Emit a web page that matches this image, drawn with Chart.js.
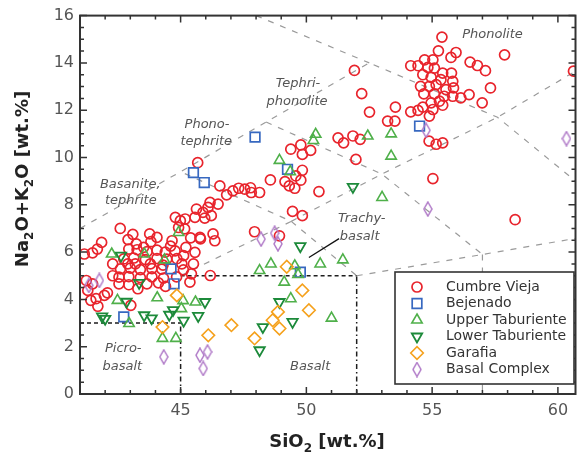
<!DOCTYPE html>
<html><head><meta charset="utf-8">
<script src="https://cdn.jsdelivr.net/npm/chart.js@4.4.0/dist/chart.umd.min.js"></script>
<style>html,body{margin:0;padding:0;background:#fff;overflow:hidden;width:580px;height:452px}canvas{display:block}</style>
</head><body><canvas id="c" width="584" height="452"></canvas>
<script>
// ---------------- data ----------------
const seriesNames = ["Cumbre Vieja","Bejenado","Upper Taburiente","Lower Taburiente","Garafia","Basal Complex"];
const xTickValues = [45,50,55,60];
const yTickValues = [0,2,4,6,8,10,12,14,16];

const cumbreVieja = [
[55.39,15.09],[57.88,14.34],[55.25,14.51],[55.95,14.44],[55.75,14.23],[54.70,14.13],[55.03,14.13],[54.15,13.88],[54.44,13.88],[56.51,14.03],[56.80,13.89],[57.12,13.67],[54.83,13.81],[55.09,13.78],[55.42,13.57],[55.77,13.57],[54.63,13.50],[54.96,13.39],[55.35,13.29],[55.82,13.22],[54.54,13.01],[54.89,13.01],[55.16,13.08],[55.55,12.87],[55.85,12.94],[57.32,12.94],[54.67,12.69],[55.09,12.69],[55.48,12.59],[55.82,12.59],[56.14,12.52],[56.47,12.66],[54.96,12.31],[55.29,12.38],[56.99,12.31],[54.63,12.13],[55.03,12.03],[55.42,12.21],[54.15,11.93],[54.44,11.99],[54.89,11.75],[53.54,12.13],[53.23,11.54],[53.52,11.54],[54.88,10.69],[55.16,10.56],[55.42,10.62],[60.62,13.65],
[51.91,13.68],[52.20,12.70],[52.51,11.92],[51.26,10.83],[51.48,10.62],[51.85,10.91],[52.14,10.77],[49.38,10.35],[49.78,10.53],[49.84,10.13],[50.17,10.30],[49.15,8.98],[49.32,8.80],[49.54,8.70],[49.78,9.04],[49.84,9.46],[49.58,9.22],[50.50,8.56],[51.97,9.92],[55.03,9.11],[49.45,7.72],[49.84,7.54],[58.30,7.37],[48.57,9.05],
[45.68,9.78],[46.56,8.80],[46.83,8.42],[47.08,8.59],[47.31,8.70],[47.55,8.66],[47.81,8.52],[48.14,8.52],[47.78,8.72],[46.17,8.10],[46.49,8.03],[45.63,7.82],[45.89,7.68],[46.09,7.89],[45.57,7.47],[45.96,7.44],[46.22,7.54],[45.18,7.40],[44.99,7.33],[44.92,7.04],[45.16,6.98],[44.79,7.47],[45.77,6.62],[46.29,6.77],[46.36,6.48],[47.94,6.86],[48.93,6.69],[45.21,6.20],[45.12,5.85],[45.57,5.99],[45.51,5.50],[45.05,5.50],[45.43,5.08],[45.37,4.73],[46.18,5.01],[45.79,6.56],[45.40,6.60],[44.66,6.48],
[42.60,7.00],[41.86,6.41],[41.69,6.13],[41.50,5.97],[41.17,5.92],[42.91,6.53],[43.24,6.35],[42.94,6.13],[43.77,6.77],[44.06,6.62],[43.82,6.44],[43.53,6.20],[43.10,6.75],[44.60,6.25],
[43.27,6.10],[43.67,6.02],[44.06,6.08],[44.39,6.00],[44.78,6.05],
[42.74,5.71],[43.14,5.75],[43.60,5.68],[44.06,5.73],[44.45,5.70],[44.85,5.72],
[42.61,5.29],[43.00,5.32],[43.40,5.26],[43.86,5.30],[44.25,5.28],[45.11,5.25],
[42.55,4.94],[42.94,4.96],[43.40,4.92],[43.86,4.95],[44.32,4.90],[44.84,4.95],
[42.55,4.66],[42.94,4.62],[43.66,4.66],[44.12,4.70],[43.30,4.45],[44.40,4.55],
[43.20,5.50],[43.80,5.50],[44.30,5.45],[42.90,5.50],[42.30,5.50],[42.30,5.00],
[41.31,4.38],[41.64,4.03],[41.71,3.71],[41.97,4.17],[42.09,4.28],[41.43,3.96],[43.02,3.75],[41.25,4.80],[41.50,4.66]
];
const bejenado = [[47.96,10.86],[45.51,9.36],[45.94,8.94],[49.25,9.50],[49.76,5.15],[54.50,11.33],[44.62,5.29],[44.74,4.66],[42.74,3.26]];
const upperTaburiente = [[50.37,10.98],[50.28,10.72],[52.44,10.91],[53.37,11.00],[53.37,10.06],[53.01,8.31],[48.93,9.88],[49.36,9.40],[51.45,5.67],[50.55,5.50],[44.92,6.83],[48.14,5.22],[48.59,5.50],[49.54,5.42],[49.67,5.05],[49.12,4.73],[49.38,4.03],[51.00,3.21],[42.26,5.92],[43.56,5.92],[44.36,5.67],[42.49,3.96],[44.07,4.07],[45.03,3.61],[45.59,3.89],[42.95,2.98],[44.28,2.35],[44.81,2.35],[45.10,3.95]];
const lowerTaburiente = [[51.85,8.76],[49.76,6.25],[48.93,3.89],[49.45,3.05],[42.63,5.85],[43.35,4.70],[42.85,3.90],[41.88,3.28],[42.00,3.18],[43.55,3.33],[43.85,3.20],[44.55,3.35],[44.70,3.55],[45.12,3.10],[45.70,3.30],[45.97,3.89],[48.27,2.83],[48.14,1.85]];
const garafia = [[44.85,4.17],[44.28,2.83],[46.10,2.48],[47.02,2.91],[47.94,2.35],[48.87,3.47],[48.66,3.12],[48.93,2.77],[49.22,5.38],[49.84,4.38],[50.10,3.54]];
const basalComplex = [[41.35,4.59],[41.77,4.80],[44.33,1.57],[45.77,1.64],[46.07,1.78],[45.90,1.08],[48.20,6.55],[48.74,6.80],[48.87,6.35],[54.76,11.15],[54.83,7.82],[60.34,10.80]];

// TAS field boundaries (SiO2, Na2O+K2O)
const tasBoundaries = [
 [[41,7],[45,9.4],[48.4,11.5],[52.5,14],[57.6,11.7],[63,7]],
 [[48,16],[52.5,14]],
 [[45,5],[49.4,7.3],[45,9.4]],
 [[49.4,7.3],[52,5]],
 [[49.4,7.3],[53,9.3],[57.6,11.7],[63,15.1]],
 [[48.4,11.5],[53,9.3],[57,5.9]],
 [[52,5],[57,5.9],[63,7]],
 [[57,5.9],[57,0]]
];
const basaltBoundaries = [
 [[41,3],[45,3]],
 [[45,0],[45,3]],
 [[45,5],[52,5]],
 [[52,0],[52,5]]
];
const fieldLabels = [
 ["Phonolite",57.4,15.2],
 ["Tephri-",49.67,13.14],["phonolite",49.63,12.38],
 ["Phono-",46.05,11.40],["tephrite",46.02,10.69],
 ["Basanite,",43.0,8.87],["tephrite",43.02,8.17],
 ["Trachy-",52.2,7.41],["basalt",52.12,6.67],
 ["Picro-",42.72,1.92],["basalt",42.68,1.15],
 ["Basalt",50.15,1.15]
];
const leaderLine = [[51.3,6.57],[50.1,5.77]];

// ---------------- styles ----------------
const FONT = "'DejaVu Sans', 'Liberation Sans', Arial, sans-serif";
Chart.defaults.font.family = FONT;

function tallDiamond(color){
  const c = document.createElement('canvas'); c.width = 10; c.height = 16;
  const g = c.getContext('2d');
  g.strokeStyle = color; g.lineWidth = 1.5;
  g.beginPath(); g.moveTo(5,1); g.lineTo(9,8); g.lineTo(5,15); g.lineTo(1,8); g.closePath(); g.stroke();
  return c;
}
const toXY = a => a.map(p => ({x:p[0], y:p[1]}));
const clear = 'rgba(0,0,0,0)';
const datasets = [
 {label:seriesNames[0], data:toXY(cumbreVieja), pointStyle:'circle', pointRadius:5, pointBorderWidth:1.7, borderColor:'#e8242c', pointBorderColor:'#e8242c', backgroundColor:clear, pointBackgroundColor:clear, order:6},
 {label:seriesNames[1], data:toXY(bejenado), pointStyle:'rect', pointRadius:6.8, pointBorderWidth:1.7, borderColor:'#3768c0', pointBorderColor:'#3768c0', backgroundColor:clear, pointBackgroundColor:clear, order:5},
 {label:seriesNames[2], data:toXY(upperTaburiente), pointStyle:'triangle', pointRadius:6, pointBorderWidth:1.6, borderColor:'#4fb04a', pointBorderColor:'#4fb04a', backgroundColor:clear, pointBackgroundColor:clear, order:4},
 {label:seriesNames[3], data:toXY(lowerTaburiente), pointStyle:'triangle', pointRotation:180, pointRadius:6, pointBorderWidth:1.8, borderColor:'#1c8a3a', pointBorderColor:'#1c8a3a', backgroundColor:clear, pointBackgroundColor:clear, order:3},
 {label:seriesNames[4], data:toXY(garafia), pointStyle:'rectRot', pointRadius:6.3, pointBorderWidth:1.6, borderColor:'#f5a11c', pointBorderColor:'#f5a11c', backgroundColor:clear, pointBackgroundColor:clear, order:2},
 {label:seriesNames[5], data:toXY(basalComplex), pointStyle:tallDiamond('#b07ac8'), pointRadius:6, pointBorderWidth:1.5, borderColor:'#b07ac8', pointBorderColor:'#b07ac8', backgroundColor:clear, pointBackgroundColor:clear, order:1}
];

function drawMarker(ctx, ds, x, y){
  ctx.save();
  ctx.strokeStyle = ds.pointBorderColor; ctx.fillStyle = clear; ctx.lineWidth = ds.pointBorderWidth;
  const opts = {pointStyle: ds.pointStyle, rotation: ds.pointRotation || 0, radius: ds.pointRadius, borderWidth: ds.pointBorderWidth};
  Chart.helpers.drawPoint(ctx, opts, x, y);
  ctx.restore();
}

const overlay = {
  id:'overlay',
  beforeDatasetsDraw(chart){
    const ctx = chart.ctx, a = chart.chartArea, sx = chart.scales.x, sy = chart.scales.y;
    const P = p => [sx.getPixelForValue(p[0]), sy.getPixelForValue(p[1])];
    ctx.save();
    ctx.beginPath(); ctx.rect(a.left, a.top, a.right - a.left, a.bottom - a.top); ctx.clip();
    ctx.strokeStyle = '#9a9a9a'; ctx.lineWidth = 1.2; ctx.setLineDash([6,7]);
    tasBoundaries.forEach(seg => { ctx.beginPath(); seg.forEach((p,i) => { const q = P(p); i ? ctx.lineTo(q[0],q[1]) : ctx.moveTo(q[0],q[1]); }); ctx.stroke(); });
    ctx.strokeStyle = '#1e1e1e'; ctx.lineWidth = 1.5;
    basaltBoundaries.forEach(seg => {
      const p0 = P(seg[0]), p1 = P(seg[1]);
      ctx.setLineDash(Math.abs(p0[0]-p1[0]) < 1 ? [5,3,1.5,3] : [4,3]);
      ctx.beginPath(); ctx.moveTo(p0[0],p0[1]); ctx.lineTo(p1[0],p1[1]); ctx.stroke();
    });
    ctx.setLineDash([]); ctx.lineWidth = 1.3; ctx.strokeStyle = '#111';
    const l0 = P(leaderLine[0]), l1 = P(leaderLine[1]);
    ctx.beginPath(); ctx.moveTo(l0[0],l0[1]); ctx.lineTo(l1[0],l1[1]); ctx.stroke();
    ctx.fillStyle = '#555'; ctx.font = 'italic 13px ' + FONT; ctx.textAlign = 'center'; ctx.textBaseline = 'middle';
    fieldLabels.forEach(l => { const q = P([l[1], l[2]]); ctx.fillText(l[0], q[0], q[1]); });
    ctx.restore();
  },
  afterDatasetsDraw(chart){
    const ctx = chart.ctx, a = chart.chartArea, sx = chart.scales.x, sy = chart.scales.y;
    ctx.save();
    ctx.strokeStyle = '#333'; ctx.lineWidth = 2;
    ctx.strokeRect(a.left, a.top, a.right - a.left, a.bottom - a.top);
    ctx.lineWidth = 1.5; ctx.beginPath();
    for (let v = 41; v <= 60.7; v += 1) {
      const X = sx.getPixelForValue(v), L = (v % 5 === 0) ? 7 : 4;
      ctx.moveTo(X, a.bottom); ctx.lineTo(X, a.bottom - L);
      ctx.moveTo(X, a.top); ctx.lineTo(X, a.top + L);
    }
    for (let v = 0; v <= 16; v += 0.5) {
      const Y = sy.getPixelForValue(v), L = (v % 2 === 0) ? 7 : 4;
      ctx.moveTo(a.left, Y); ctx.lineTo(a.left + L, Y);
      ctx.moveTo(a.right, Y); ctx.lineTo(a.right - L, Y);
    }
    ctx.stroke();
    const lx = 395, ly = 272, lw = 179, lh = 112;
    ctx.fillStyle = '#fff'; ctx.fillRect(lx, ly, lw, lh);
    ctx.strokeStyle = '#333'; ctx.lineWidth = 1.6; ctx.strokeRect(lx, ly, lw, lh);
    ctx.font = '14px ' + FONT; ctx.fillStyle = '#333'; ctx.textAlign = 'left'; ctx.textBaseline = 'middle';
    chart.data.datasets.forEach((ds, i) => {
      const y = 287 + i * 16.5;
      drawMarker(ctx, ds, 417, y);
      ctx.fillStyle = '#333';
      ctx.fillText(ds.label, 446, y);
    });
    ctx.fillStyle = '#222'; ctx.textBaseline = 'alphabetic'; ctx.textAlign = 'left';
    const big = 'bold 18px ' + FONT, small = 'bold 12px ' + FONT;
    function rich(parts){
      let w = 0;
      parts.forEach(p => { ctx.font = p[1] ? small : big; w += ctx.measureText(p[0]).width; });
      return w;
    }
    function drawRich(parts, x0, base){
      let x = x0;
      parts.forEach(p => { ctx.font = p[1] ? small : big; ctx.fillText(p[0], x, base + (p[1] ? 5 : 0)); x += ctx.measureText(p[0]).width; });
    }
    const xt = [["SiO",0],["2",1],[" [wt.%]",0]];
    drawRich(xt, 327 - rich(xt)/2, 447);
    const yt = [["Na",0],["2",1],["O+K",0],["2",1],["O [wt.%]",0]];
    ctx.save(); ctx.translate(28, 179); ctx.rotate(-Math.PI/2);
    drawRich(yt, -rich(yt)/2, 0);
    ctx.restore();
    ctx.restore();
  }
};

new Chart(document.getElementById('c'), {
  type:'scatter',
  data:{datasets},
  options:{
    responsive:false, animation:false,
    layout:{padding:{top:14, right:3, left:0, bottom:0}},
    plugins:{legend:{display:false}, tooltip:{enabled:false}},
    scales:{
      x:{type:'linear', min:41, max:60.7,
         grid:{display:false, drawTicks:false}, border:{display:false},
         afterBuildTicks:s => { s.ticks = xTickValues.map(v => ({value:v})); },
         afterFit:s => { s.height = 58; },
         ticks:{font:{size:16}, color:'#555', padding:7, maxRotation:0, autoSkip:false}},
      y:{type:'linear', min:0, max:16,
         grid:{display:false, drawTicks:false}, border:{display:false},
         afterBuildTicks:s => { s.ticks = yTickValues.map(v => ({value:v})); },
         afterFit:s => { s.width = 80; },
         ticks:{font:{size:16}, color:'#555', padding:6, autoSkip:false}}
    }
  },
  plugins:[overlay]
});
</script></body></html>
